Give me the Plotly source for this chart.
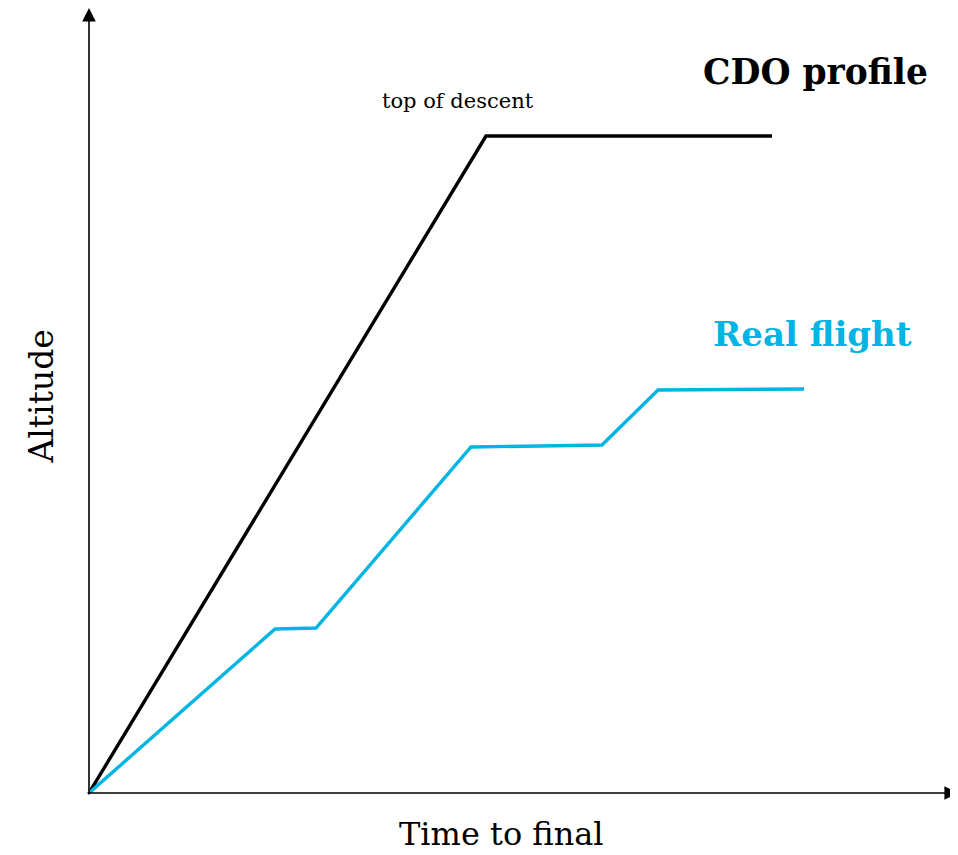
import plotly.graph_objects as go

# Data (arbitrary units: time to final, altitude)
cdo_time = [0, 39.7, 68.3]
cdo_alt = [0, 65.7, 65.7]
real_time = [0, 18.6, 22.7, 38.2, 51.3, 56.9, 71.5]
real_alt = [0, 16.4, 16.5, 34.6, 34.8, 40.3, 40.4]

x_max = 86.9
y_max = 78.5

FONT = "DejaVu Serif"
BLUE = "#00b4e4"

fig = go.Figure()
fig.add_trace(go.Scatter(x=cdo_time, y=cdo_alt, mode="lines",
                         line=dict(color="black", width=3.4), cliponaxis=False,
                         hoverinfo="skip"))
fig.add_trace(go.Scatter(x=real_time, y=real_alt, mode="lines",
                         line=dict(color=BLUE, width=3.4), cliponaxis=False,
                         hoverinfo="skip"))

# axis arrows
fig.add_annotation(x=x_max, y=0, ax=-0.3, ay=0, xref="x", yref="y", axref="x", ayref="y",
                   text="", showarrow=True, arrowhead=2, arrowsize=1.7, arrowwidth=1.6,
                   arrowcolor="black")
fig.add_annotation(x=0, y=y_max, ax=0, ay=-0.3, xref="x", yref="y", axref="x", ayref="y",
                   text="", showarrow=True, arrowhead=2, arrowsize=1.7, arrowwidth=1.6,
                   arrowcolor="black")

fig.add_annotation(x=36.9, y=69.2, text="top of descent", showarrow=False,
                   font=dict(family=FONT, size=21, color="black"))
fig.add_annotation(x=72.6, y=72.1, text="<b>CDO profile</b>", showarrow=False,
                   font=dict(family=FONT, size=34.5, color="black"))
fig.add_annotation(x=72.3, y=45.9, text="<b>Real flight</b>", showarrow=False,
                   font=dict(family=FONT, size=34, color=BLUE))
fig.add_annotation(x=0.475, y=-0.052, xref="paper", yref="paper", text="Time to final",
                   xanchor="center", yanchor="middle",
                   showarrow=False, font=dict(family=FONT, size=32, color="black"))
fig.add_annotation(x=-0.0541, y=0.505, xref="paper", yref="paper", text="Altitude",
                   xanchor="center", yanchor="middle",
                   showarrow=False, textangle=-90,
                   font=dict(family=FONT, size=33, color="black"))

fig.update_layout(
    width=950, height=847,
    margin=dict(l=81, r=0, t=0, b=62),
    plot_bgcolor="white", paper_bgcolor="white",
    showlegend=False,
    xaxis=dict(range=[0, x_max], visible=False, fixedrange=True),
    yaxis=dict(range=[0, y_max], visible=False, fixedrange=True),
)

fig.write_html("out.html")
